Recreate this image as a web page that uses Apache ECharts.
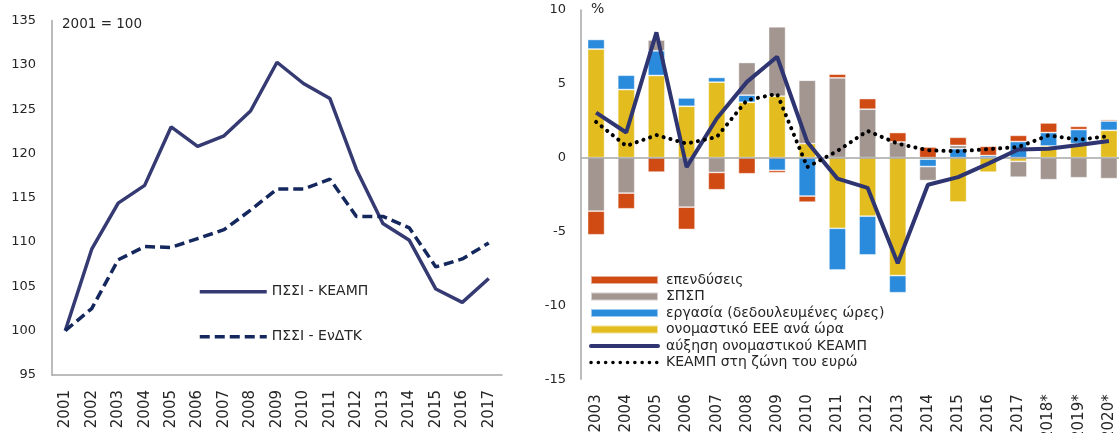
<!DOCTYPE html>
<html><head><meta charset="utf-8">
<script src="https://cdn.jsdelivr.net/npm/echarts@6/dist/echarts.min.js"></script>
<style>html,body{margin:0;padding:0;background:#fff}#c{width:1119px;height:433px}</style>
</head><body><div id="c"></div>
<script>
// Left chart
const yearsL = ['2001','2002','2003','2004','2005','2006','2007','2008','2009','2010','2011','2012','2013','2014','2015','2016','2017'];
const ulcGdp = [100,109.2,114.4,116.4,123.0,120.8,122.0,124.8,130.3,127.9,126.2,118.2,112.1,110.2,104.7,103.2,105.9];
const ulcHicp = [100,102.5,108.0,109.5,109.4,110.4,111.4,113.6,116.0,116.0,117.1,112.9,112.9,111.6,107.2,108.1,109.9];
const leftTicks = {min:95, max:135, interval:5};

// Right chart
const yearsR = ['2003','2004','2005','2006','2007','2008','2009','2010','2011','2012','2013','2014','2015','2016','2017','2018*','2019*','2020*'];
const compPerHour = [7.35,4.61,5.56,3.48,5.11,3.75,4.16,0.95,-4.78,-3.96,-7.98,-0.1,-3.0,-0.98,-0.25,0.79,0.95,1.85];
const labour = [0.65,0.97,1.67,0.56,0.32,0.48,-0.86,-2.6,-2.82,-2.62,-1.16,-0.5,0.61,0.14,1.09,0.91,0.95,0.63];
const tfp = [-3.62,-2.4,0.73,-3.35,-1.0,2.21,4.70,4.29,5.40,3.28,1.06,-0.95,0.22,0,-1.07,-1.49,-1.36,-1.42];
const investment = [-1.6,-1.06,-0.98,-1.51,-1.17,-1.09,-0.16,-0.41,0.25,0.72,0.64,0.72,0.55,0.63,0.42,0.65,0.22,0.1];
const ulcGrowth = [3.05,1.70,8.48,-0.64,2.65,5.13,6.83,1.06,-1.42,-2.04,-7.15,-1.83,-1.32,-0.4,0.56,0.6,0.85,1.13];
const ulcEuro = [2.42,0.79,1.53,0.95,1.40,3.89,4.32,-0.64,0.45,1.81,0.95,0.50,0.43,0.58,0.72,1.51,1.22,1.45];
const rightTicks = {min:-15, max:10, interval:5};

const names = {
  inv:'επενδύσεις', tfp:'ΣΠΣΠ', lab:'εργασία (δεδουλευμένες ώρες)', comp:'ονομαστικό ΕΕΕ ανά ώρα',
  grow:'αύξηση ονομαστικού ΚΕΑΜΠ', euro:'ΚΕΑΜΠ στη ζώνη του ευρώ',
  l1:'ΠΣΣΙ - ΚΕΑΜΠ', l2:'ΠΣΣΙ - ΕνΔΤΚ'
};
const FONT = 'DejaVu Sans';
const txt = '#262626';
const axisGrey = '#a6a6a6';
const barBorder = {borderColor:'rgba(255,255,255,0.55)', borderWidth:0.8};
const noSym = {opacity:0};

const chart = echarts.init(document.getElementById('c'), null, {renderer:'canvas'});
chart.setOption({
  animation:false,
  textStyle:{fontFamily:FONT},
  grid:[
    {left:52, top:20.6, width:450, height:354.4, containLabel:false, outerBoundsMode:'none'},
    {left:581, top:9.9, width:543, height:369.4, containLabel:false, outerBoundsMode:'none'}
  ],
  xAxis:[
    {gridIndex:0, type:'category', data:yearsL, boundaryGap:true,
     axisLine:{show:true, lineStyle:{color:axisGrey, width:1.5}}, axisTick:{show:false},
     axisLabel:{rotate:90, color:txt, fontSize:15, fontFamily:FONT, margin:15}},
    {gridIndex:1, type:'category', data:yearsR, boundaryGap:true,
     axisLine:{show:false}, axisTick:{show:false},
     axisLabel:{rotate:90, color:txt, fontSize:15, fontFamily:FONT, margin:15}}
  ],
  yAxis:[
    {gridIndex:0, type:'value', min:leftTicks.min, max:leftTicks.max, interval:leftTicks.interval,
     axisLine:{show:true, lineStyle:{color:axisGrey, width:1.5}}, axisTick:{show:false}, splitLine:{show:false},
     axisLabel:{color:txt, fontSize:13, fontFamily:FONT, margin:16}},
    {gridIndex:1, type:'value', min:rightTicks.min, max:rightTicks.max, interval:rightTicks.interval,
     axisLine:{show:true, lineStyle:{color:axisGrey, width:1.5}}, axisTick:{show:false}, splitLine:{show:false},
     axisLabel:{color:txt, fontSize:13, fontFamily:FONT, margin:15}}
  ],
  legend:[
    {orient:'vertical', left:198, top:281.7, padding:0, itemWidth:67, itemHeight:20, itemGap:25,
     data:[{name:names.l1, itemStyle:noSym, lineStyle:{width:3.5}},
           {name:names.l2, itemStyle:noSym, lineStyle:{width:3.5, type:[10,5]}}],
     textStyle:{color:txt, fontSize:14, fontFamily:FONT, lineHeight:20}},
    {orient:'vertical', left:589, top:271.8, padding:0, itemWidth:67, itemHeight:8, itemGap:0,
     data:[
       {name:names.inv, icon:'rect'},{name:names.tfp, icon:'rect'},{name:names.lab, icon:'rect'},{name:names.comp, icon:'rect'},
       {name:names.grow, itemStyle:noSym, lineStyle:{width:4, cap:'round'}},
       {name:names.euro, itemStyle:noSym, lineStyle:{width:3.5, type:[0.1,7.2], cap:'round'}}],
     textStyle:{color:txt, fontSize:14, fontFamily:FONT, lineHeight:16.5, padding:[0,0,0,3]}}
  ],
  graphic:[
    {type:'text', left:62, top:17, style:{text:'2001 = 100', fill:txt, font:'13.5px "DejaVu Sans"'}},
    {type:'text', left:591, top:2, style:{text:'%', fill:txt, font:'14px "DejaVu Sans"'}}
  ],
  series:[
    {name:names.l1, type:'line', xAxisIndex:0, yAxisIndex:0, data:ulcGdp, symbol:'none',
     lineStyle:{color:'#353b72', width:3.5}, itemStyle:{color:'#353b72'}},
    {name:names.l2, type:'line', xAxisIndex:0, yAxisIndex:0, data:ulcHicp, symbol:'none',
     lineStyle:{color:'#14285e', width:3.5, type:[10,5]}, itemStyle:{color:'#14285e'}},
    {name:names.comp, type:'bar', stack:'r', xAxisIndex:1, yAxisIndex:1, data:compPerHour, barWidth:17,
     itemStyle:Object.assign({color:'#e3bd1f'}, barBorder),
     markLine:{silent:true, symbol:'none', label:{show:false}, lineStyle:{color:axisGrey, width:1.5, type:'solid'}, data:[{yAxis:0}]}},
    {name:names.lab, type:'bar', stack:'r', xAxisIndex:1, yAxisIndex:1, data:labour, barWidth:17,
     itemStyle:Object.assign({color:'#2a8bdc'}, barBorder)},
    {name:names.tfp, type:'bar', stack:'r', xAxisIndex:1, yAxisIndex:1, data:tfp, barWidth:17,
     itemStyle:Object.assign({color:'#a39690'}, barBorder)},
    {name:names.inv, type:'bar', stack:'r', xAxisIndex:1, yAxisIndex:1, data:investment, barWidth:17,
     itemStyle:Object.assign({color:'#d04a14'}, barBorder)},
    {name:names.grow, type:'line', xAxisIndex:1, yAxisIndex:1, data:ulcGrowth, symbol:'none', z:5,
     lineStyle:{color:'#2e3570', width:4}, itemStyle:{color:'#2e3570'}},
    {name:names.euro, type:'line', xAxisIndex:1, yAxisIndex:1, data:ulcEuro, symbol:'none', z:6,
     lineStyle:{color:'#000', width:4, type:[0.1,7], cap:'round'}, itemStyle:{color:'#000'}}
  ]
});
</script></body></html>
